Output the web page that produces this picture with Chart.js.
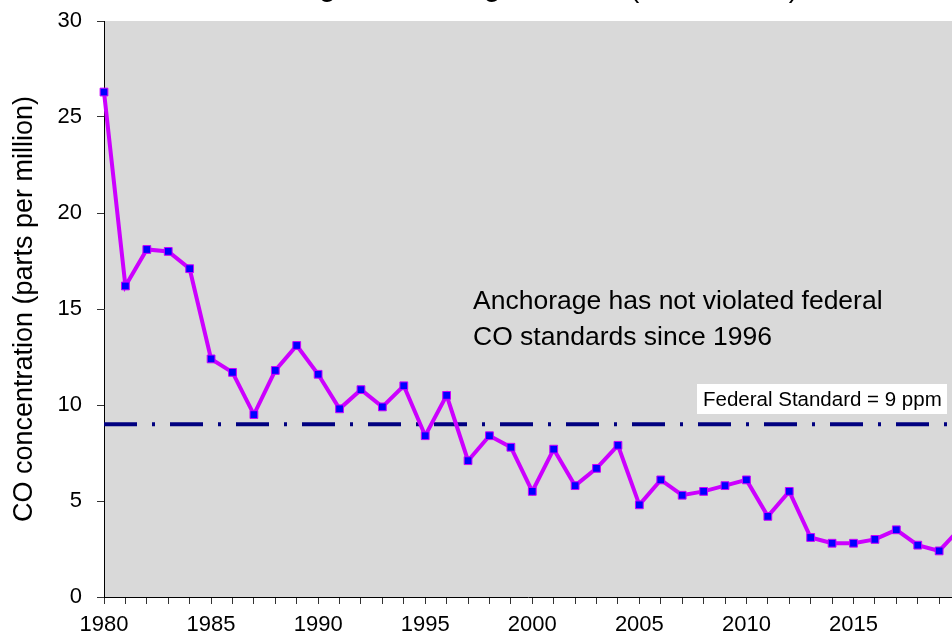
<!DOCTYPE html>
<html>
<head>
<meta charset="utf-8">
<title>Anchorage CO</title>
<script src="https://cdn.jsdelivr.net/npm/chart.js@4.4.1/dist/chart.umd.min.js"></script>
<style>
  html, body { margin: 0; padding: 0; background: #fff; }
  #wrap { width: 952px; height: 632px; position: relative; }
</style>
</head>
<body>
<div id="wrap"><canvas id="coChart"></canvas></div>
<script>
// datos
const years = [1980, 1981, 1982, 1983, 1984, 1985, 1986, 1987, 1988, 1989,
               1990, 1991, 1992, 1993, 1994, 1995, 1996, 1997, 1998, 1999,
               2000, 2001, 2002, 2003, 2004, 2005, 2006, 2007, 2008, 2009,
               2010, 2011, 2012, 2013, 2014, 2015, 2016, 2017, 2018, 2019, 2020];
const coValues = [26.3, 16.2, 18.1, 18.0, 17.1, 12.4, 11.7, 9.5, 11.8, 13.1,
                  11.6, 9.8, 10.8, 9.9, 11.0, 8.4, 10.5, 7.1, 8.4, 7.8,
                  5.5, 7.7, 5.8, 6.7, 7.9, 4.8, 6.1, 5.3, 5.5, 5.8,
                  6.1, 4.2, 5.5, 3.1, 2.8, 2.8, 3.0, 3.5, 2.7, 2.4, 3.6];
const standardYears = [1980, 2020];
const standardValue = 9;
const yTicks = [0, 5, 10, 15, 20, 25, 30];

const FONT = "'Liberation Sans', Arial, sans-serif";

// fondo gris del area de trazado + textos
const decorPlugin = {
    id: 'decor',
    beforeDraw(chart) {
        const { ctx, chartArea: a } = chart;
        ctx.save();
        ctx.fillStyle = '#ffffff';
        ctx.fillRect(0, 0, chart.width, chart.height);
        ctx.fillStyle = '#d9d9d9';
        ctx.fillRect(a.left, a.top, a.right - a.left, a.bottom - a.top);
        ctx.restore();
    },
    beforeDatasetsDraw(chart) {
        const ctx = chart.ctx;
        ctx.save();
        // etiqueta de la norma federal
        ctx.fillStyle = '#ffffff';
        ctx.fillRect(697, 384, 250, 30);
        ctx.fillStyle = '#000000';
        ctx.font = '20.5px ' + FONT;
        ctx.textBaseline = 'middle';
        ctx.fillText('Federal Standard = 9 ppm', 703, 400);
        // nota
        ctx.font = '26.5px ' + FONT;
        ctx.textBaseline = 'alphabetic';
        ctx.fillText('Anchorage has not violated federal', 473, 309);
        ctx.fillText('CO standards since 1996', 473, 345);
        // titulo (recortado arriba)
        ctx.font = 'bold 26px ' + FONT;
        ctx.fillText('Anchorage Second Highest 8-hour', 214, -3);
        ctx.font = '28px ' + FONT;
        ctx.fillText('(1980 - 2019)', 630, -3);
        ctx.restore();
    }
};

const points = years.map((y, i) => ({ x: y, y: coValues[i] }));
const standardLine = standardYears.map(y => ({ x: y, y: standardValue }));

new Chart(document.getElementById('coChart'), {
    type: 'line',
    data: {
        datasets: [
            {
                label: 'CO',
                data: points,
                borderColor: '#cc00ff',
                borderWidth: 4,
                pointStyle: 'rect',
                pointRadius: 5.5,
                pointBackgroundColor: '#0000ff',
                pointBorderColor: '#cc00ff',
                pointBorderWidth: 1,
                tension: 0,
                clip: false,
                order: 1
            },
            {
                label: 'Federal Standard',
                data: standardLine,
                borderColor: '#000080',
                borderWidth: 4,
                borderDash: [33, 15, 3, 15],
                pointRadius: 0,
                order: 2
            }
        ]
    },
    options: {
        responsive: true,
        maintainAspectRatio: false,
        animation: false,
        devicePixelRatio: 1,
        // sin autoPadding para que el area llegue al borde derecho
        layout: { autoPadding: false, padding: { top: 21, right: 0, left: 0, bottom: 0 } },
        plugins: {
            legend: { display: false },
            tooltip: { enabled: false }
        },
        scales: {
            x: {
                type: 'linear',
                min: 1980,
                max: 2019.6,
                afterFit(scale) {
                    scale.height = 35;
                    scale.paddingLeft = 0;
                    scale.paddingRight = 0;
                },
                afterBuildTicks(scale) {
                    scale.ticks = years.filter(y => y <= 2019).map(v => ({ value: v }));
                },
                ticks: {
                    autoSkip: false,
                    maxRotation: 0,
                    padding: 8,
                    color: '#000',
                    font: { family: FONT, size: 22 },
                    callback: v => (v % 5 === 0 ? String(v) : '')
                },
                grid: {
                    drawOnChartArea: false,
                    drawTicks: true,
                    tickLength: 7,
                    color: '#333'
                },
                border: { color: '#000', width: 1 }
            },
            y: {
                min: 0,
                max: 30,
                afterFit(scale) {
                    scale.width = 104;
                    scale.paddingTop = 0;
                    scale.paddingBottom = 0;
                },
                afterBuildTicks(scale) {
                    scale.ticks = yTicks.map(v => ({ value: v }));
                },
                ticks: {
                    padding: 15,
                    color: '#000',
                    font: { family: FONT, size: 22 }
                },
                grid: {
                    drawOnChartArea: false,
                    drawTicks: true,
                    tickLength: 7,
                    color: '#333'
                },
                border: { color: '#000', width: 1 },
                title: {
                    display: true,
                    text: 'CO concentration (parts per million)',
                    color: '#000',
                    font: { family: FONT, size: 27 },
                    padding: { top: 8, bottom: 0 }
                }
            }
        }
    },
    plugins: [decorPlugin]
});
</script>
</body>
</html>
